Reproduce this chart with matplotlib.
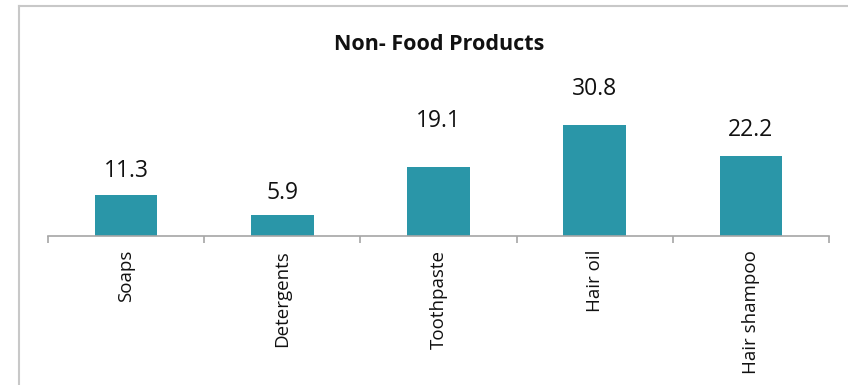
import matplotlib
matplotlib.use("Agg")
import matplotlib.pyplot as plt
from matplotlib.lines import Line2D
import numpy as np

categories = ["Soaps", "Detergents", "Toothpaste", "Hair oil", "Hair shampoo"]
values = [11.3, 5.9, 19.1, 30.8, 22.2]
title = "Non- Food Products"

# vertical gap (points) between each bar top and its value label
label_gaps = [13, 11.5, 29, 21.6, 14.4]

W, H = 848, 385
fig = plt.figure(figsize=(W / 100, H / 100), dpi=100)
plt.rcParams['font.family'] = ['Open Sans', 'DejaVu Sans']

# axes box in pixel coordinates: x from 48 to 829, baseline at y=236
left, right, base, top = 48, 829, 236, 56
ax = fig.add_axes([left / W, (H - base) / H, (right - left) / W, (base - top) / H])
ymax = (base - top) / 3.6
ax.set_ylim(0, ymax)
ax.set_xlim(-0.5, len(categories) - 0.5)

x = np.arange(len(categories))
ax.bar(x, values, width=0.4, color="#2A96A8", zorder=2)
for xi, v, g in zip(x, values, label_gaps):
    ax.annotate(f"{v:.1f}", (xi, v), xytext=(0, g), textcoords="offset points",
                ha="center", va="baseline", fontsize=16.5, color="#111111")

for s in ("left", "right", "top"):
    ax.spines[s].set_visible(False)
ax.spines["bottom"].set_color("#a6a6a6")
ax.spines["bottom"].set_linewidth(1.2)
ax.set_yticks([])
ax.set_xticks(np.arange(len(categories) + 1) - 0.5)
ax.set_xticklabels([])
ax.tick_params(axis="x", which="major", length=5, color="#a6a6a6", width=1.2)
ax.set_xticks(x, minor=True)
ax.set_xticklabels(categories, minor=True, rotation=90, fontsize=13.5, color="#111111")
ax.tick_params(axis="x", which="minor", length=0, pad=10)
for lbl in ax.get_xticklabels(minor=True):
    lbl.set_va("top")

fig.text(439 / W, 1 - 44 / H, title, ha="center", va="center",
         fontsize=15.5, fontweight="bold", color="#111111")

# outer chart frame (top and left edges)
fig.add_artist(Line2D([19 / W, 1], [1 - 6 / H, 1 - 6 / H], color="#c8c8c8", lw=1.5,
                      transform=fig.transFigure))
fig.add_artist(Line2D([19 / W, 19 / W], [0, 1 - 6 / H], color="#c8c8c8", lw=1.5,
                      transform=fig.transFigure))

fig.savefig("out.png", dpi=100)
